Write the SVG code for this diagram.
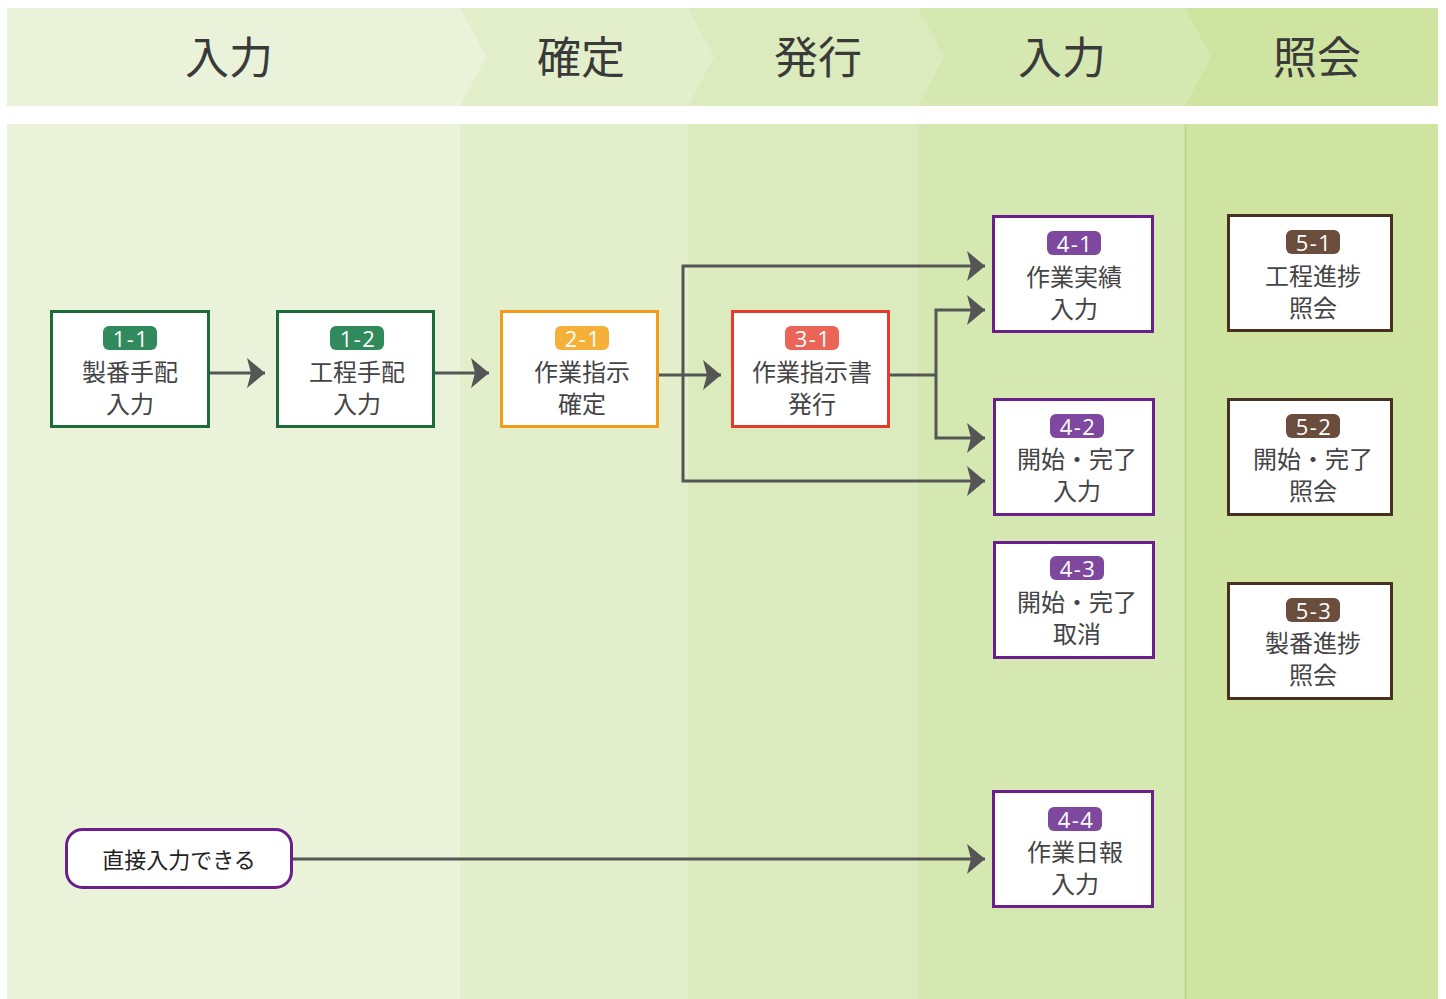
<svg xmlns="http://www.w3.org/2000/svg" width="1446" height="999" viewBox="0 0 1446 999">
<defs>
<style>
.hd{font-family:"Noto Sans CJK JP","Noto Sans",sans-serif;font-size:44px;fill:#3a3a3a;text-anchor:middle;dominant-baseline:central}
.box{fill:#fff;stroke-width:3}
.t{font-family:"Noto Sans CJK JP","Noto Sans",sans-serif;font-size:24px;fill:#444;text-anchor:middle;dominant-baseline:central}
.b{font-family:"Open Sans","Noto Sans",sans-serif;font-size:22px;letter-spacing:1.5px;fill:#fff;text-anchor:middle;dominant-baseline:central}
.c{fill:none;stroke:#555;stroke-width:3}
.g{stroke:#1d6b3b}.gb{fill:#318a5c}
.o{stroke:#f39c1a}.ob{fill:#f5b03a}
.r{stroke:#e43b2c}.rb{fill:#ea6557}
.p{stroke:#6a1f8c}.pb{fill:#7d489d}
.n{stroke:#4a3020}.nb{fill:#6a4d3c}
</style>
<marker id="ah" markerUnits="userSpaceOnUse" markerWidth="20" markerHeight="30" refX="18" refY="15" orient="auto">
<path d="M0,0 L18,15 L0,30 L4,15 Z" fill="#555"/>
</marker>
</defs>
<rect width="1446" height="999" fill="#fff"/>
<g id="header">
<rect x="1185" y="8" width="253" height="98" fill="#d0e4a1"/>
<polygon points="918,8 1185,8 1211,57 1185,106 918,106" fill="#d6e8b1"/>
<polygon points="688,8 918,8 944,57 918,106 688,106" fill="#dcebbe"/>
<polygon points="460,8 688,8 714,57 688,106 460,106" fill="#e3efca"/>
<polygon points="7,8 460,8 486,57 460,106 7,106" fill="#eaf3da"/>
<text class="hd" x="229" y="55">入力</text>
<text class="hd" x="581" y="55">確定</text>
<text class="hd" x="818" y="55">発行</text>
<text class="hd" x="1062" y="55">入力</text>
<text class="hd" x="1317" y="55">照会</text>
</g>
<g id="lanes">
<rect x="7" y="124" width="453" height="875" fill="#eaf3da"/>
<rect x="460" y="124" width="228" height="875" fill="#e3efca"/>
<rect x="688" y="124" width="230" height="875" fill="#dcebbe"/>
<rect x="918" y="124" width="267" height="875" fill="#d6e8b1"/>
<rect x="1185" y="124" width="253" height="875" fill="#d0e4a1"/>
<line x1="1185.5" y1="124" x2="1185.5" y2="999" stroke="#b4d487" stroke-width="1.5"/>
</g>
<g id="connectors">
<path class="c" d="M209,373 H265" marker-end="url(#ah)"/>
<path class="c" d="M434,373 H489" marker-end="url(#ah)"/>
<path class="c" d="M658,375 H721" marker-end="url(#ah)"/>
<path class="c" d="M683,375 V266 H985" marker-end="url(#ah)"/>
<path class="c" d="M683,375 V481 H985" marker-end="url(#ah)"/>
<path class="c" d="M889,375 H936"/>
<path class="c" d="M936,375 V310 H985" marker-end="url(#ah)"/>
<path class="c" d="M936,375 V438 H985" marker-end="url(#ah)"/>
<path class="c" d="M292,859 H985" marker-end="url(#ah)"/>
</g>
<g id="n1-1">
<rect class="box g" x="51.5" y="311.5" width="157" height="115"/>
<rect class="gb" x="103" y="326" width="54" height="24" rx="6"/>
<text class="b" x="131" y="338">1-1</text>
<text class="t" x="130" y="370">製番手配</text>
<text class="t" x="130" y="402">入力</text>
</g>
<g id="n1-2">
<rect class="box g" x="277.5" y="311.5" width="156" height="115"/>
<rect class="gb" x="330" y="326" width="54" height="24" rx="6"/>
<text class="b" x="358" y="338">1-2</text>
<text class="t" x="357" y="370">工程手配</text>
<text class="t" x="357" y="402">入力</text>
</g>
<g id="n2-1">
<rect class="box o" x="501.5" y="311.5" width="156" height="115"/>
<rect class="ob" x="555" y="326" width="54" height="24" rx="6"/>
<text class="b" x="583" y="338">2-1</text>
<text class="t" x="582" y="370">作業指示</text>
<text class="t" x="582" y="402">確定</text>
</g>
<g id="n3-1">
<rect class="box r" x="732.5" y="311.5" width="156" height="115"/>
<rect class="rb" x="785" y="326" width="54" height="24" rx="6"/>
<text class="b" x="813" y="338">3-1</text>
<text class="t" x="812" y="370">作業指示書</text>
<text class="t" x="812" y="402">発行</text>
</g>
<g id="n4-1">
<rect class="box p" x="993.5" y="216.5" width="159" height="115"/>
<rect class="pb" x="1047" y="231" width="54" height="24" rx="6"/>
<text class="b" x="1075" y="243">4-1</text>
<text class="t" x="1074" y="275">作業実績</text>
<text class="t" x="1074" y="307">入力</text>
</g>
<g id="n4-2">
<rect class="box p" x="994.5" y="399.5" width="159" height="115"/>
<rect class="pb" x="1050" y="414" width="54" height="24" rx="6"/>
<text class="b" x="1078" y="426">4-2</text>
<text class="t" x="1077" y="457">開始・完了</text>
<text class="t" x="1077" y="489">入力</text>
</g>
<g id="n4-3">
<rect class="box p" x="994.5" y="542.5" width="159" height="115"/>
<rect class="pb" x="1050" y="556" width="54" height="24" rx="6"/>
<text class="b" x="1078" y="568">4-3</text>
<text class="t" x="1077" y="600">開始・完了</text>
<text class="t" x="1077" y="632">取消</text>
</g>
<g id="n4-4">
<rect class="box p" x="993.5" y="791.5" width="159" height="115"/>
<rect class="pb" x="1048" y="807" width="54" height="24" rx="6"/>
<text class="b" x="1076" y="819">4-4</text>
<text class="t" x="1075" y="850">作業日報</text>
<text class="t" x="1075" y="882">入力</text>
</g>
<g id="n5-1">
<rect class="box n" x="1228.5" y="215.5" width="163" height="115"/>
<rect class="nb" x="1286" y="230" width="54" height="24" rx="6"/>
<text class="b" x="1314" y="242">5-1</text>
<text class="t" x="1313" y="274">工程進捗</text>
<text class="t" x="1313" y="306">照会</text>
</g>
<g id="n5-2">
<rect class="box n" x="1228.5" y="399.5" width="163" height="115"/>
<rect class="nb" x="1286" y="414" width="54" height="24" rx="6"/>
<text class="b" x="1314" y="426">5-2</text>
<text class="t" x="1313" y="457">開始・完了</text>
<text class="t" x="1313" y="489">照会</text>
</g>
<g id="n5-3">
<rect class="box n" x="1228.5" y="583.5" width="163" height="115"/>
<rect class="nb" x="1286" y="598" width="54" height="24" rx="6"/>
<text class="b" x="1314" y="610">5-3</text>
<text class="t" x="1313" y="641">製番進捗</text>
<text class="t" x="1313" y="673">照会</text>
</g>
<g id="direct">
<rect x="66.5" y="829.5" width="225" height="58" rx="16" fill="#fff" stroke="#6a1f8c" stroke-width="3"/>
<text class="t" x="179" y="858" style="font-size:22px;fill:#222">直接入力できる</text>
</g>
</svg>
